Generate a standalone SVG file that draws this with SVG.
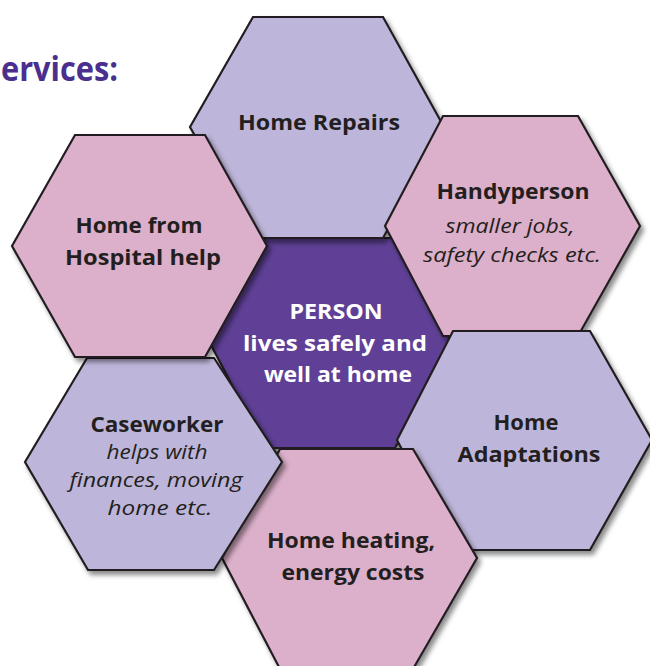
<svg xmlns="http://www.w3.org/2000/svg" width="650" height="666" viewBox="0 0 650 666">
<defs>
<filter id="sh" x="-10%" y="-10%" width="125%" height="125%">
<feDropShadow dx="3" dy="4" stdDeviation="2.5" flood-color="#000" flood-opacity="0.45"/>
</filter>
</defs>
<style>
.hex{stroke:#231f20;stroke-width:2.2;stroke-linejoin:miter;filter:url(#sh)}
.lav{fill:#beb6da}
.pink{fill:#dcb0ca}
.dark{fill:#5e3f96}
.b{font-family:"Open Sans","Noto Sans","Liberation Sans",sans-serif;font-weight:bold;font-size:22px;fill:#231f20;text-anchor:middle}
.i{font-family:"Open Sans","Noto Sans","Liberation Sans",sans-serif;font-style:italic;font-size:20px;fill:#231f20;text-anchor:middle}
.w{fill:#ffffff}
.title{font-family:"Open Sans","Noto Sans","Liberation Sans",sans-serif;font-weight:bold;font-size:34px;fill:#4a2f8e}
</style>
<rect width="650" height="666" fill="#ffffff"/>
<text class="title" x="1" y="81" textLength="117" lengthAdjust="spacingAndGlyphs">ervices:</text>
<g id="connectors"></g>
<g id="center">
<polygon class="hex dark" points="265,238 395,238 452,343 395,448 265,448 210,343"/>
<text class="b w" x="336" y="319" textLength="93" lengthAdjust="spacingAndGlyphs">PERSON</text>
<text class="b w" x="335" y="351" textLength="184" lengthAdjust="spacingAndGlyphs">lives safely and</text>
<text class="b w" x="338" y="382" textLength="148" lengthAdjust="spacingAndGlyphs">well at home</text>
</g>
<g id="home-repairs">
<polygon class="hex lav" points="253,17 383,17 444,127 383,238 253,238 190,127"/>
<text class="b" x="319" y="130" textLength="162" lengthAdjust="spacingAndGlyphs">Home Repairs</text>
</g>
<g id="handyperson">
<polygon class="hex pink" points="443,116 578,116 640,226 578,336 443,336 385,226"/>
<text class="b" x="513" y="199" textLength="153" lengthAdjust="spacingAndGlyphs">Handyperson</text>
<text class="i" x="510" y="233" textLength="129" lengthAdjust="spacingAndGlyphs">smaller jobs,</text>
<text class="i" x="512" y="262" textLength="178" lengthAdjust="spacingAndGlyphs">safety checks etc.</text>
</g>
<g id="home-adaptations">
<polygon class="hex lav" points="453,331 590,331 652,440 590,550 455,550 397,440"/>
<text class="b" x="526" y="430" textLength="65" lengthAdjust="spacingAndGlyphs">Home</text>
<text class="b" x="529" y="462" textLength="143" lengthAdjust="spacingAndGlyphs">Adaptations</text>
</g>
<g id="home-heating">
<polygon class="hex pink" points="280,449 413,449 477,558 413,669 280,669 222,558"/>
<text class="b" x="351" y="548" textLength="168" lengthAdjust="spacingAndGlyphs">Home heating,</text>
<text class="b" x="353" y="580" textLength="143" lengthAdjust="spacingAndGlyphs">energy costs</text>
</g>
<g id="caseworker">
<polygon class="hex lav" points="87,358 214,358 282,462 214,570 88,570 25,462"/>
<text class="b" x="157" y="432" textLength="133" lengthAdjust="spacingAndGlyphs">Caseworker</text>
<text class="i" x="157" y="459" textLength="101" lengthAdjust="spacingAndGlyphs">helps with</text>
<text class="i" x="156" y="487" textLength="173" lengthAdjust="spacingAndGlyphs">finances, moving</text>
<text class="i" x="160" y="515" textLength="105" lengthAdjust="spacingAndGlyphs">home etc.</text>
</g>
<g id="home-from-hospital">
<polygon class="hex pink" points="75,135 205,135 267,246 205,357 75,357 12,246"/>
<text class="b" x="139" y="233" textLength="127" lengthAdjust="spacingAndGlyphs">Home from</text>
<text class="b" x="143" y="265" textLength="156" lengthAdjust="spacingAndGlyphs">Hospital help</text>
</g>
</svg>
